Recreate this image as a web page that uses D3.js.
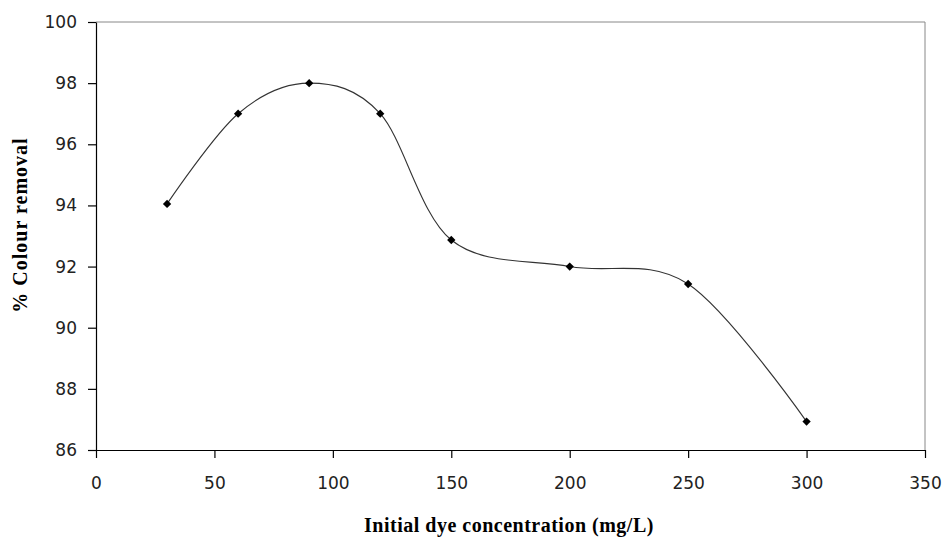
<!DOCTYPE html>
<html><head><meta charset="utf-8">
<script src="https://cdn.jsdelivr.net/npm/d3@7"></script>
<style>body{margin:0;background:#fff}</style>
</head><body><svg id="c" width="943" height="538"></svg>
<script>
const concentration = [30, 60, 90, 120, 150, 200, 250, 300];
const removal = [94.05, 97.0, 98.0, 97.0, 92.87, 92.0, 91.43, 86.93];
const xTicks = [0, 50, 100, 150, 200, 250, 300, 350];
const yTicks = [86, 88, 90, 92, 94, 96, 98, 100];
const xTitle = "Initial dye concentration (mg/L)";
const yTitle = "% Colour removal";

const svg = d3.select("#c");
const L = 96, R = 925, T = 22, B = 450;
const x = d3.scaleLinear().domain([0, 350]).range([L, R]);
const y = d3.scaleLinear().domain([86, 100]).range([B, T]);

svg.append("path").attr("d", `M${L},${T}H${R}V${B}`).attr("fill","none").attr("stroke","#888").attr("stroke-width",1);

const fontTick = "'DejaVu Sans', Tahoma, sans-serif";
const xa = svg.append("g").attr("transform", `translate(0,${B})`)
  .call(d3.axisBottom(x).tickValues(xTicks).tickSize(8).tickPadding(19).tickSizeOuter(0));
const ya = svg.append("g").attr("transform", `translate(${L},0)`)
  .call(d3.axisLeft(y).tickValues(yTicks).tickSize(8).tickPadding(11).tickSizeOuter(0));
[xa, ya].forEach(a => {
  a.selectAll("path, line").attr("stroke", "#000").attr("stroke-width", 1.2);
  a.selectAll("text").attr("font-family", fontTick).attr("font-size", 17).attr("fill", "#222");
});

const line = d3.line().x((d,i)=>x(concentration[i])).y(d=>y(d)).curve(d3.curveCatmullRom.alpha(0));
svg.append("path").datum(removal).attr("d", line).attr("fill","none").attr("stroke","#333").attr("stroke-width",1.1);

svg.selectAll(".m").data(removal).enter().append("path")
  .attr("d", d3.symbol().type(d3.symbolDiamond2).size(44))
  .attr("transform", (d,i)=>`translate(${x(concentration[i])},${y(d)})`)
  .attr("fill","#000");

svg.append("text").attr("x", 509).attr("y", 532).attr("text-anchor","middle")
  .attr("font-family","'Liberation Serif', 'Times New Roman', serif").attr("font-weight","bold").attr("font-size",20)
  .attr("letter-spacing", 0.5)
  .text(xTitle);
svg.append("text").attr("transform", `translate(27,225) rotate(-90)`).attr("text-anchor","middle")
  .attr("font-family","'Liberation Serif', 'Times New Roman', serif").attr("font-weight","bold").attr("font-size",20)
  .attr("letter-spacing", 1)
  .text(yTitle);
</script></body></html>
